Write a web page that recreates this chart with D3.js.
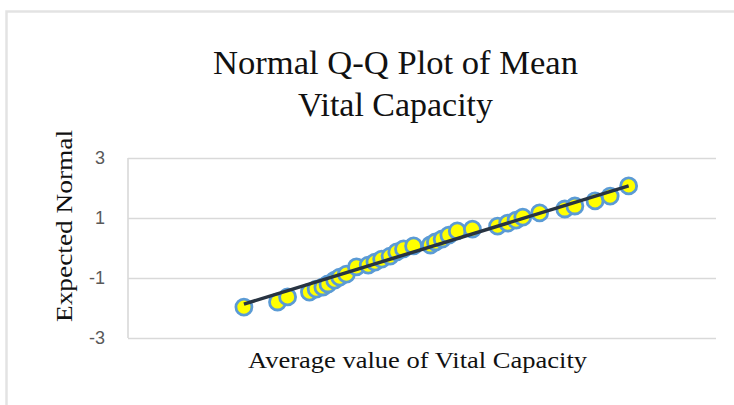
<!DOCTYPE html>
<html>
<head>
<meta charset="utf-8">
<script src="https://cdn.jsdelivr.net/npm/d3@7"></script>
<style>
  body { margin: 0; background: #fff; }
</style>
</head>
<body>
<div class="chart"></div>
<script>

// observed (average vital capacity, litres) and expected normal values
var capacity = [2.19, 2.39, 2.45, 2.58, 2.62, 2.66, 2.69, 2.73, 2.76, 2.80,
                2.86, 2.93, 2.97, 3.01, 3.06, 3.10, 3.14, 3.20, 3.30, 3.33,
                3.37, 3.41, 3.46, 3.55, 3.70, 3.76, 3.81, 3.85, 3.95, 4.10,
                4.16, 4.28, 4.37, 4.48];
var expected = [-1.97, -1.80, -1.63, -1.47, -1.37, -1.30, -1.20, -1.07, -0.97, -0.87,
                -0.63, -0.57, -0.47, -0.37, -0.27, -0.13, -0.03, 0.07, 0.10, 0.20,
                0.30, 0.43, 0.57, 0.63, 0.73, 0.83, 0.93, 1.03, 1.17, 1.30,
                1.40, 1.57, 1.73, 2.07];

// reference line end points
var lineX = [2.19, 4.48];
var lineY = [-1.87, 2.07];

var yTicks = [3, 1, -1, -3];

var W = 734, H = 405;
var margin = {top: 158, right: 18, bottom: 67, left: 128},
    w = W - margin.left - margin.right,
    h = H - margin.top - margin.bottom;

var svg = d3.select(".chart")
            .append("svg")
            .attr("width", W)
            .attr("height", H);

// outer chart border
svg.append("rect")
    .attr("x", 6.5)
    .attr("y", 11.5)
    .attr("width", W)
    .attr("height", H)
    .attr("fill", "none")
    .attr("stroke", "#e3e3e3")
    .attr("stroke-width", 2.5);

var x = d3.scaleLinear()
          .domain([1.5, 5.0])
          .range([0, w]);

var y = d3.scaleLinear()
          .domain([-3, 3])
          .range([h, 0]);

var g = svg.append("g")
           .attr("transform", "translate(" + margin.left + "," + margin.top + ")");

// gridlines + labels (hyphen for negatives, like the original)
var yAxis = d3.axisLeft(y)
              .tickValues(yTicks)
              .tickSize(-w)
              .tickPadding(23)
              .tickFormat(function(d) { return String(d); });

var ga = g.append("g").call(yAxis);
ga.select(".domain")
    .attr("stroke", "#d6d6d6")
    .attr("stroke-width", 1.5)
    .attr("d", "M0,0V" + h);
ga.selectAll(".tick line")
    .attr("stroke", "#d9d9d9")
    .attr("stroke-width", 1.5);
ga.selectAll(".tick text")
    .attr("fill", "#595959")
    .style("font-family", "'Liberation Sans', Arial, sans-serif")
    .style("font-size", "18px");

// points
g.selectAll("circle")
    .data(capacity)
    .enter()
    .append("circle")
    .attr("cx", function(d) { return x(d); })
    .attr("cy", function(d, i) { return y(expected[i]); })
    .attr("r", 8)
    .attr("fill", "#ffff00")
    .attr("stroke", "#5b9bd5")
    .attr("stroke-width", 2.8);

// reference line
var line = d3.line()
             .x(function(d) { return x(d); })
             .y(function(d, i) { return y(lineY[i]); });

g.append("path")
    .datum(lineX)
    .attr("d", line)
    .attr("fill", "none")
    .attr("stroke", "#283442")
    .attr("stroke-width", 3.5);

// titles
var serif = "'Liberation Serif', 'Times New Roman', serif";

var title = svg.append("text")
               .attr("text-anchor", "middle")
               .style("font-family", serif)
               .style("font-size", "33px")
               .attr("fill", "#111");
title.append("tspan").attr("x", 395.5).attr("y", 74)
     .attr("textLength", 365).attr("lengthAdjust", "spacingAndGlyphs")
     .text("Normal Q-Q Plot of Mean");
title.append("tspan").attr("x", 395.5).attr("y", 116)
     .attr("textLength", 195).attr("lengthAdjust", "spacingAndGlyphs")
     .text("Vital Capacity");

svg.append("text")
    .attr("transform", "translate(72,226) rotate(-90)")
    .attr("text-anchor", "middle")
    .attr("textLength", 192)
    .attr("lengthAdjust", "spacingAndGlyphs")
    .style("font-family", serif)
    .style("font-size", "23px")
    .attr("fill", "#111")
    .text("Expected Normal");

svg.append("text")
    .attr("x", 417.5)
    .attr("y", 368)
    .attr("text-anchor", "middle")
    .attr("textLength", 339)
    .attr("lengthAdjust", "spacingAndGlyphs")
    .style("font-family", serif)
    .style("font-size", "23px")
    .attr("fill", "#111")
    .text("Average value of Vital Capacity");

</script>
</body>
</html>
